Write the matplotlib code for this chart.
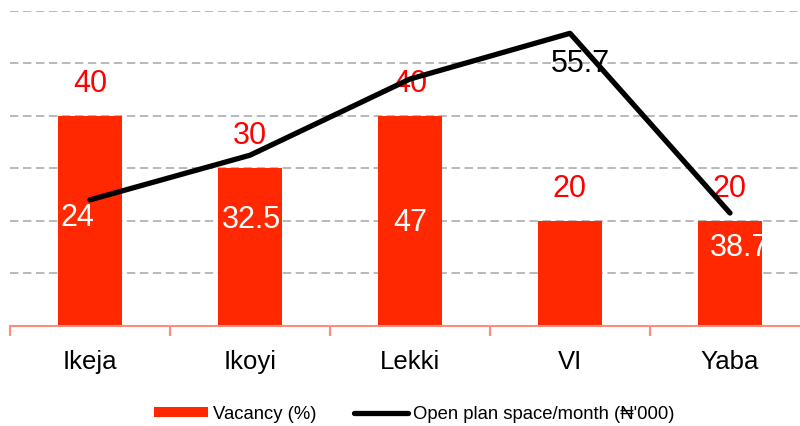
import matplotlib
matplotlib.use("Agg")
import matplotlib.pyplot as plt
from matplotlib.ticker import FixedLocator

plt.rcParams['font.family'] = ['Liberation Sans', 'DejaVu Sans']

# data
areas = ['Ikeja', 'Ikoyi', 'Lekki', 'VI', 'Yaba']
vacancy = [40, 30, 40, 20, 20]
rent_plotted = [24, 32.5, 47, 55.7, 21.5]
rent_labels = ['24', '32.5', '47', '55.7', '38.7']

bar_color = '#FF2800'
axis_color = '#FF8C7A'

fig = plt.figure(figsize=(8, 4.26), dpi=100)
ax = fig.add_axes([10 / 800, 100 / 426, 800 / 800, 315.3 / 426])

x = list(range(len(areas)))
bars = ax.bar(x, vacancy, width=0.4, color=bar_color, label='Vacancy (%)', zorder=2)
line, = ax.plot(x, rent_plotted, color='black', lw=3.8, solid_capstyle='round',
                label="Open plan space/month (\u20a6'000)", zorder=5)

# bar value labels
for xi, v in zip(x, vacancy):
    ax.annotate(str(v), (xi, v), xytext=(0, 32), textcoords='offset pixels',
                ha='center', va='center', color='#FF0000', fontsize=22, zorder=3)

# line value labels (placed as in the original)
label_offsets = [(-13, -18), (1, -65), (0, -144), (10, -31), (10, -35)]
label_colors = ['white', 'white', 'white', 'black', 'white']
for xi, v, txt, off, c in zip(x, rent_plotted, rent_labels, label_offsets, label_colors):
    ax.annotate(txt, (xi, v), xytext=off, textcoords='offset pixels',
                ha='center', va='center', color=c, fontsize=22, zorder=3)

ax.set_xlim(-0.5, 4.5)
ax.set_ylim(0, 60)
ax.set_yticks(range(0, 61, 10))
ax.set_yticklabels([])
ax.tick_params(axis='y', length=0)
ax.grid(axis='y', color='#A6A6A6', linestyle=(0, (5.5, 3)), lw=1.1)
ax.set_axisbelow(True)

ax.set_xticks(x)
ax.set_xticklabels(areas, fontsize=18.5)
ax.xaxis.set_minor_locator(FixedLocator([-0.5, 0.5, 1.5, 2.5, 3.5, 4.5]))
ax.tick_params(axis='x', which='major', length=0, pad=17)
ax.tick_params(axis='x', which='minor', length=7, width=1.5, color=axis_color)

for s in ['left', 'top', 'right']:
    ax.spines[s].set_visible(False)
ax.spines['bottom'].set_color(axis_color)
ax.spines['bottom'].set_linewidth(1.5)

fig.legend(handles=[bars, line], loc='center', bbox_to_anchor=(0.518, 0.028),
           ncol=2, frameon=False, fontsize=13.3, handlelength=2.9, handleheight=0.5,
           handletextpad=0.27, columnspacing=2.05)

fig.savefig('out.png', dpi=100)
